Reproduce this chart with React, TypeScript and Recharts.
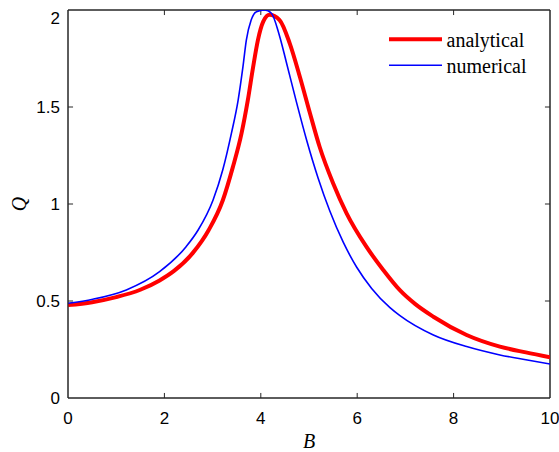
import React from 'react';
import { LineChart, Line, XAxis, YAxis, Legend, ReferenceLine, ReferenceArea } from 'recharts';

const bAnalytical = [0, 0.5, 1.0, 1.5, 1.9, 2.2, 2.59, 2.92, 3.21, 3.42, 3.6, 3.73, 3.84, 3.94, 4.05, 4.18, 4.39, 4.6, 4.81, 5.02, 5.22, 5.5, 5.78, 6.19, 6.54, 6.88, 7.2, 7.58, 8.27, 8.96, 9.5, 10];
const qAnalytical = [0.479, 0.494, 0.52, 0.558, 0.606, 0.655, 0.748, 0.866, 1.018, 1.19, 1.364, 1.534, 1.705, 1.845, 1.94, 1.975, 1.948, 1.828, 1.656, 1.468, 1.295, 1.107, 0.952, 0.78, 0.66, 0.557, 0.485, 0.419, 0.325, 0.265, 0.235, 0.21];

const bNumerical = [0, 0.515, 1.21, 1.9, 2.45, 2.7, 3.01, 3.21, 3.39, 3.53, 3.63, 3.7, 3.8, 3.91, 4.08, 4.22, 4.38, 4.53, 4.74, 4.95, 5.19, 5.43, 5.71, 5.99, 6.3, 6.68, 6.88, 7.58, 8.27, 8.96, 9.5, 10];
const qNumerical = [0.488, 0.509, 0.557, 0.651, 0.78, 0.866, 1.021, 1.175, 1.364, 1.536, 1.708, 1.845, 1.948, 1.991, 2.0, 1.983, 1.874, 1.731, 1.525, 1.33, 1.133, 0.965, 0.803, 0.674, 0.565, 0.466, 0.426, 0.325, 0.265, 0.222, 0.197, 0.175];

const xTicks = [0, 2, 4, 6, 8, 10];
const yTicks = [0, 0.5, 1, 1.5, 2];
const seriesNames = ['analytical', 'numerical'];

const X_MIN = 0;
const X_MAX = 10;
const Y_MIN = 0;
const Y_MAX = 2;

const analyticalData = bAnalytical.map((b, i) => ({ b, q: qAnalytical[i] }));
const numericalData = bNumerical.map((b, i) => ({ b, q: qNumerical[i] }));

// inward tick-mark length (~5px) expressed in axis units
const xTickLen = (X_MAX - X_MIN) * 0.0105;
const yTickLen = (Y_MAX - Y_MIN) * 0.013;

const innerX = xTicks.filter((t) => t > X_MIN && t < X_MAX);
const innerY = yTicks.filter((t) => t > Y_MIN && t < Y_MAX);

const AXIS_COLOR = '#262626';
const tickStyle = { fontSize: 17, fontFamily: '"Liberation Sans", Arial, sans-serif', fill: '#000' };
const labelStyle = { fontSize: 20, fontFamily: '"Liberation Serif", "Times New Roman", serif', fontStyle: 'italic', fill: '#000' };
const serif = '"Liberation Serif", "Times New Roman", serif';

const renderLegend = () => (
  <svg width={175} height={60} style={{ display: 'block' }}>
    <line x1={11} x2={64} y1={21.3} y2={21.3} stroke="#ff0000" strokeWidth={4} />
    <text x={68.5} y={28.5} fontSize={20} fontFamily={serif} fill="#000">{seriesNames[0]}</text>
    <line x1={11} x2={64} y1={47.3} y2={47.3} stroke="#0000ff" strokeWidth={1.6} />
    <text x={68.5} y={54.5} fontSize={20} fontFamily={serif} fill="#000">{seriesNames[1]}</text>
  </svg>
);

export default function App() {
  return (
    <div style={{ position: 'absolute', top: 8, left: 8 }}>
      <LineChart width={551} height={444} margin={{ top: 2, right: 9, bottom: 0, left: 0 }}>
        <XAxis
          type="number"
          dataKey="b"
          domain={[X_MIN, X_MAX]}
          ticks={xTicks}
          allowDataOverflow
          height={54}
          stroke={AXIS_COLOR}
          tickLine={false}
          tickSize={0}
          tickMargin={13.5}
          tick={tickStyle}
          label={{ value: 'B', position: 'insideBottom', offset: 4, style: labelStyle }}
        />
        <YAxis
          type="number"
          domain={[Y_MIN, Y_MAX]}
          ticks={yTicks}
          allowDataOverflow
          width={60}
          stroke={AXIS_COLOR}
          tickLine={false}
          tickSize={0}
          tickMargin={8}
          tick={tickStyle}
          label={{ value: 'Q', angle: -90, position: 'insideLeft', offset: 11, style: { ...labelStyle, textAnchor: 'middle' } }}
        />
        <ReferenceArea
          x1={X_MIN}
          x2={X_MAX}
          y1={Y_MIN}
          y2={Y_MAX}
          fill="none"
          fillOpacity={0}
          stroke={AXIS_COLOR}
          strokeWidth={1}
          strokeOpacity={1}
          ifOverflow="visible"
        />
        <ReferenceLine y={Y_MAX} stroke={AXIS_COLOR} strokeWidth={1} ifOverflow="visible" />
        <ReferenceLine x={X_MAX} stroke={AXIS_COLOR} strokeWidth={1} ifOverflow="visible" />
        {innerX.map((t) => (
          <ReferenceLine
            key={`xb${t}`}
            segment={[{ x: t, y: Y_MIN }, { x: t, y: Y_MIN + yTickLen }]}
            stroke={AXIS_COLOR}
            strokeWidth={1}
            ifOverflow="visible"
          />
        ))}
        {innerX.map((t) => (
          <ReferenceLine
            key={`xt${t}`}
            segment={[{ x: t, y: Y_MAX }, { x: t, y: Y_MAX - yTickLen }]}
            stroke={AXIS_COLOR}
            strokeWidth={1}
            ifOverflow="visible"
          />
        ))}
        {innerY.map((t) => (
          <ReferenceLine
            key={`yl${t}`}
            segment={[{ x: X_MIN, y: t }, { x: X_MIN + xTickLen, y: t }]}
            stroke={AXIS_COLOR}
            strokeWidth={1}
            ifOverflow="visible"
          />
        ))}
        {innerY.map((t) => (
          <ReferenceLine
            key={`yr${t}`}
            segment={[{ x: X_MAX, y: t }, { x: X_MAX - xTickLen, y: t }]}
            stroke={AXIS_COLOR}
            strokeWidth={1}
            ifOverflow="visible"
          />
        ))}
        <Line
          data={analyticalData}
          dataKey="q"
          name={seriesNames[0]}
          type="monotone"
          stroke="#ff0000"
          strokeWidth={4}
          dot={false}
          isAnimationActive={false}
        />
        <Line
          data={numericalData}
          dataKey="q"
          name={seriesNames[1]}
          type="monotone"
          stroke="#0000ff"
          strokeWidth={1.6}
          dot={false}
          isAnimationActive={false}
        />
        <Legend
          layout="horizontal"
          verticalAlign="middle"
          align="center"
          content={renderLegend}
          wrapperStyle={{ top: 10, left: 370, width: 175, height: 60 }}
        />
      </LineChart>
    </div>
  );
}
